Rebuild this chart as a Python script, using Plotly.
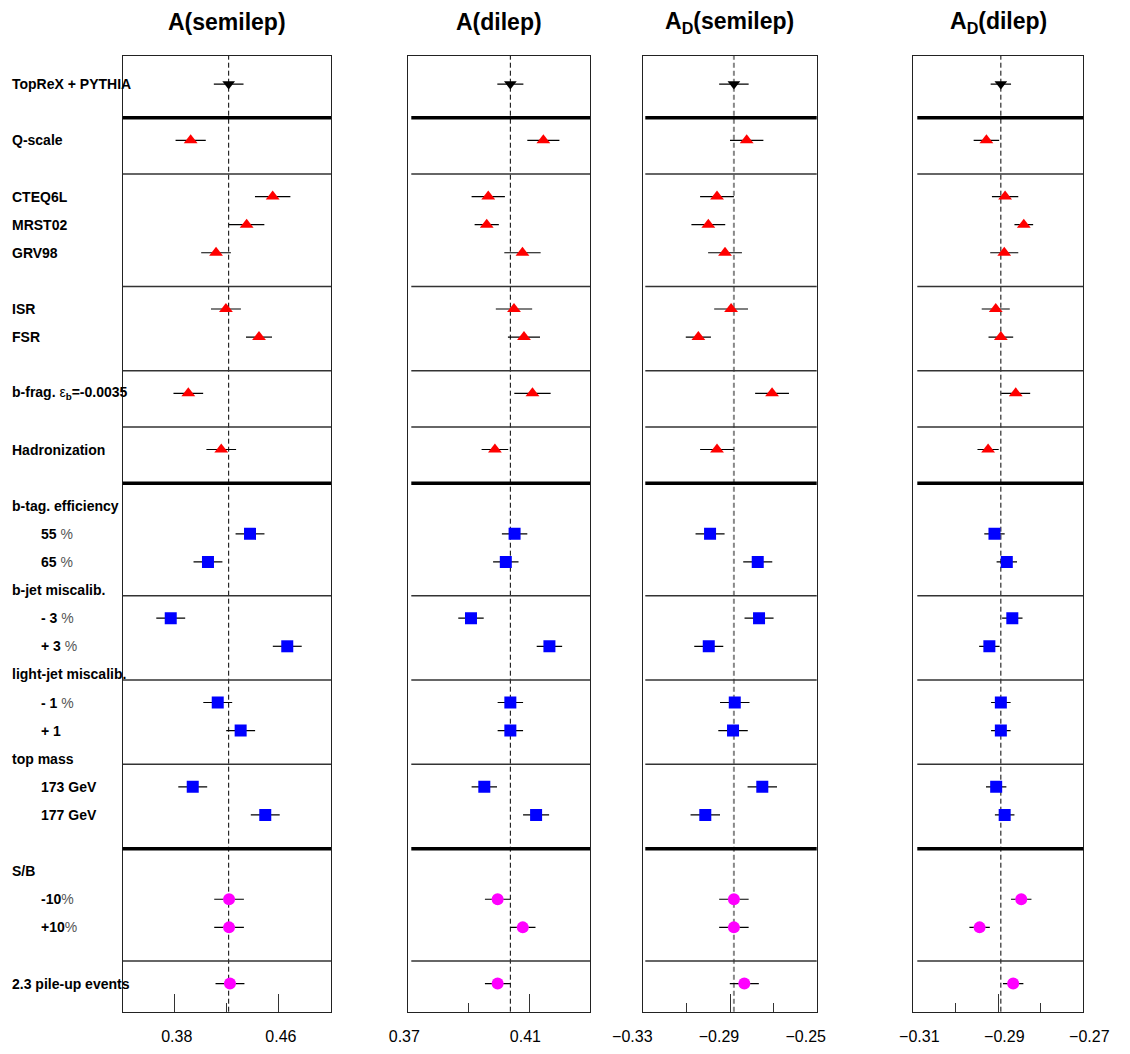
import plotly.graph_objects as go

# ---------------- data ----------------
ROWS = ["TopReX + PYTHIA", "Q-scale", "CTEQ6L", "MRST02", "GRV98", "ISR", "FSR",
        "b-frag", "Hadronization", "b-tag 55%", "b-tag 65%", "b-jet -3%", "b-jet +3%",
        "light-jet -1%", "light-jet +1%", "top mass 173", "top mass 177",
        "S/B -10%", "S/B +10%", "pile-up 2.3"]
ROW_POS = [0, 2, 4, 5, 6, 8, 9, 11, 13, 16, 17, 19, 20, 22, 23, 25, 26, 29, 30, 32]
ROW_GROUP = ["nominal", "theory", "theory", "theory", "theory", "theory", "theory",
             "theory", "theory", "detector", "detector", "detector", "detector",
             "detector", "detector", "detector", "detector", "background", "background",
             "background"]

A_semilep = [0.4214, 0.3922, 0.4552, 0.4352, 0.4117, 0.4193, 0.4447, 0.3904, 0.4157,
             0.4378, 0.4055, 0.3769, 0.4664, 0.4130, 0.4306, 0.3938, 0.4495,
             0.4217, 0.4217, 0.4224]
A_semilep_err = [0.0114, 0.0116, 0.0136, 0.0136, 0.0114, 0.0115, 0.0100, 0.0114, 0.0114,
                 0.0111, 0.0111, 0.0111, 0.0111, 0.0111, 0.0111, 0.0111, 0.0111,
                 0.0114, 0.0114, 0.0111]

A_dilep = [0.4037, 0.4146, 0.3964, 0.3959, 0.4077, 0.4049, 0.4082, 0.4110, 0.3986,
           0.4051, 0.4022, 0.3907, 0.4166, 0.4037, 0.4037, 0.3951, 0.4122,
           0.3995, 0.4078, 0.3995]
A_dilep_err = [0.0043, 0.0053, 0.0055, 0.0040, 0.0060, 0.0060, 0.0053, 0.0060, 0.0044,
               0.0042, 0.0042, 0.0042, 0.0042, 0.0042, 0.0042, 0.0042, 0.0043,
               0.0042, 0.0042, 0.0042]

AD_semilep = [-0.2882, -0.2823, -0.2960, -0.3000, -0.2923, -0.2895, -0.3046, -0.2706, -0.2960,
              -0.2992, -0.2772, -0.2766, -0.2998, -0.2878, -0.2886, -0.2751, -0.3014,
              -0.2882, -0.2882, -0.2834]
AD_semilep_err = [0.0068, 0.0077, 0.0078, 0.0078, 0.0078, 0.0078, 0.0058, 0.0078, 0.0078,
                  0.0067, 0.0067, 0.0067, 0.0067, 0.0068, 0.0068, 0.0068, 0.0068,
                  0.0068, 0.0068, 0.0067]

AD_dilep = [-0.2894, -0.2928, -0.2884, -0.2840, -0.2886, -0.2906, -0.2894, -0.2859, -0.2924,
            -0.2909, -0.2880, -0.2867, -0.2921, -0.2894, -0.2894, -0.2905, -0.2885,
            -0.2846, -0.2944, -0.2865]
AD_dilep_err = [0.0024, 0.0030, 0.0031, 0.0022, 0.0033, 0.0033, 0.0029, 0.0034, 0.0025,
                0.0024, 0.0024, 0.0024, 0.0024, 0.0023, 0.0023, 0.0024, 0.0023,
                0.0024, 0.0024, 0.0024]

PANEL_TITLES = ["A(semilep)", "A(dilep)", "A<sub>D</sub>(semilep)", "A<sub>D</sub>(dilep)"]
PANEL_RANGES = [(0.34, 0.50), (0.37, 0.43), (-0.33, -0.25), (-0.31, -0.27)]
TICK_LABELS = [[0.38, 0.46], [0.37, 0.41], [-0.33, -0.29, -0.25], [-0.31, -0.29, -0.27]]
MINOR_TICKS = [[0.42], [0.39], [-0.31, -0.27], [-0.30, -0.28]]

LABEL_TEXT = ["TopReX + PYTHIA", "Q-scale", "CTEQ6L", "MRST02", "GRV98", "ISR", "FSR",
              "b-frag. <span style='font-weight:normal'>ε</span><sub>b</sub>=-0.0035",
              "Hadronization", "b-tag. efficiency", "55 %", "65 %", "b-jet miscalib.",
              "- 3 %", "+ 3 %", "light-jet miscalib.", "- 1 %", "+ 1", "top mass",
              "173 GeV", "177 GeV", "S/B", "-10%", "+10%", "2.3 pile-up events"]
LABEL_POS = [0, 2, 4, 5, 6, 8, 9, 11, 13, 15, 16, 17, 18, 19, 20, 21, 22, 23, 24,
             25, 26, 28, 29, 30, 32]

SEPARATORS = [1.2, 3.2, 7.2, 10.2, 12.2, 14.2, 18.2, 21.2, 24.2, 27.2, 31.2]
MAJOR_SEPARATORS = [1.2, 14.2, 27.2]

# ---------------- style ----------------
W, H = 1130, 1054
BODY = 8  # default page margin of the html body
FONT = "Liberation Sans, Arial, sans-serif"
PANEL_PX = [(122.7, 331.0), (408.3, 590.0), (643.3, 816.7), (913.3, 1083.3)]
PLOT_TOP, PLOT_BOTTOM = 56.0, 1011.7
SEP_INSET = [0.0, 3.0, 2.0, 4.0]
LABEL_SHIFT = [2, -4, -11, 6]
INDENTED = {16, 17, 19, 20, 22, 23, 25, 26, 29, 30}

STYLE = {
    "nominal": dict(symbol="triangle-down", color="black", size=11),
    "theory": dict(symbol="triangle-up", color="#ff0000", size=12),
    "detector": dict(symbol="square", color="#0000ff", size=12),
    "background": dict(symbol="circle", color="#ff00ff", size=12),
}

panels = [(A_semilep, A_semilep_err), (A_dilep, A_dilep_err),
          (AD_semilep, AD_semilep_err), (AD_dilep, AD_dilep_err)]

fig = go.Figure()
shapes = []
annotations = []
layout = {}

for p, (vals, errs) in enumerate(panels):
    sfx = "" if p == 0 else str(p + 1)
    xa, ya = "x" + sfx, "y" + sfx
    for grp, st in STYLE.items():
        idx = [i for i, g in enumerate(ROW_GROUP) if g == grp]
        fig.add_trace(go.Scatter(
            x=[vals[i] for i in idx], y=[ROW_POS[i] for i in idx],
            mode="markers", xaxis=xa, yaxis=ya, showlegend=False,
            marker=dict(symbol=st["symbol"], color=st["color"], size=st["size"],
                        line=dict(width=0)),
            error_x=dict(type="data", array=[errs[i] for i in idx], color="black",
                         thickness=1.2, width=0),
        ))
    x0, x1 = PANEL_PX[p][0] - BODY, PANEL_PX[p][1] - BODY
    lo, hi = PANEL_RANGES[p]
    layout["xaxis" + sfx] = dict(
        domain=[x0 / W, x1 / W], anchor=ya, range=[lo, hi],
        showgrid=False, zeroline=False, showline=True, mirror=True,
        linecolor="#222", linewidth=1.3, automargin=False,
        tickmode="array", tickvals=TICK_LABELS[p], ticktext=[
            ("−" if v < 0 else "") + f"{abs(v):.2f}" for v in TICK_LABELS[p]],
        ticks="inside", ticklen=18, tickwidth=1.3, tickcolor="#333",
        minor=dict(tickmode="array", tickvals=MINOR_TICKS[p], ticks="inside",
                   ticklen=9, tickwidth=1.3, tickcolor="#333"),
        tickfont=dict(family=FONT, size=16, color="black"),
        ticklabelstandoff=10, ticklabelshift=LABEL_SHIFT[p],
    )
    layout["yaxis" + sfx] = dict(
        domain=[1 - (PLOT_BOTTOM - BODY) / H, 1 - (PLOT_TOP - BODY) / H], anchor=xa,
        range=[33, -1], automargin=False,
        showgrid=False, zeroline=False, showline=True, mirror=True,
        linecolor="#222", linewidth=1.3, showticklabels=False, ticks="",
    )
    # reference (nominal) dashed line
    if p == 2:
        dl = dict(color="#888888", width=2, dash="5px,3px")
    else:
        dl = dict(color="black", width=1, dash="5px,3px")
    shapes.append(dict(type="line", xref=xa, yref=ya + " domain", x0=vals[0], x1=vals[0],
                       y0=0, y1=1, line=dl, layer="below"))
    # separators
    inset = SEP_INSET[p] / (x1 - x0)
    for s in SEPARATORS:
        major = s in MAJOR_SEPARATORS
        shapes.append(dict(type="line", xref=xa + " domain", yref=ya, x0=inset, x1=1,
                           y0=s, y1=s,
                           line=dict(color="black" if major else "#333",
                                     width=3.5 if major else 1.5)))
    # panel title
    annotations.append(dict(text="<b>" + PANEL_TITLES[p] + "</b>", xref="paper", yref="paper",
                            x=(x0 + x1) / 2 / W, y=1 - (22 - BODY) / H, xanchor="center",
                            yanchor="middle", showarrow=False,
                            font=dict(family=FONT, size=23, color="black")))

# row labels
for txt, pos in zip(LABEL_TEXT, LABEL_POS):
    annotations.append(dict(
        text="<b>" + txt.replace("%", "<span style='font-weight:normal;color:#555'>%</span>") + "</b>",
        xref="paper", yref="y", x=((39 if pos in INDENTED else 10) - BODY) / W, y=pos,
        xanchor="left", yanchor="middle", showarrow=False,
        font=dict(family=FONT, size=14, color="black")))

fig.update_layout(
    width=W, height=H, margin=dict(l=0, r=0, t=0, b=0, autoexpand=False),
    paper_bgcolor="white", plot_bgcolor="white",
    shapes=shapes, annotations=annotations, **layout,
)

fig.write_html("out.html")
